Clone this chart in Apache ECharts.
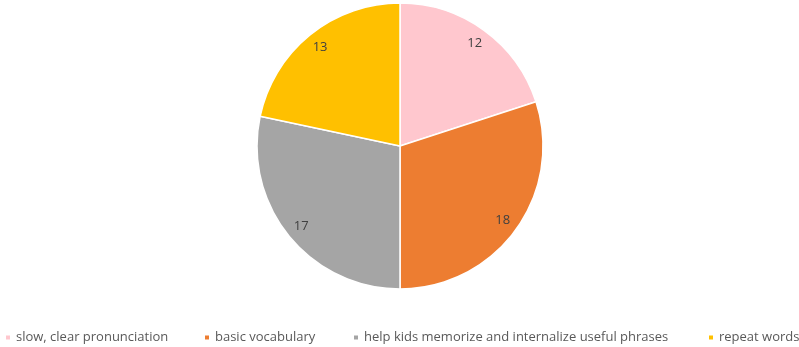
<!DOCTYPE html>
<html>
<head>
<meta charset="utf-8">
<script src="https://cdn.jsdelivr.net/npm/echarts@6/dist/echarts.min.js"></script>
<style>
html,body{margin:0;padding:0;background:#fff;}
#chart{width:799px;height:347px;}
</style>
</head>
<body>
<div id="chart"></div>
<script>
// Survey answers and their counts
var categories = ['slow, clear pronunciation', 'basic vocabulary', 'help kids memorize and internalize useful phrases', 'repeat words'];
var counts = [12, 18, 17, 13];
var colors = ['#FFC7CE', '#ED7D31', '#A5A5A5', '#FFC000'];

// left edge of each legend entry along the bottom row
var legendLeft = [4, 203, 352, 707];

var data = categories.map(function (name, i) {
  return { name: name, value: counts[i], itemStyle: { color: colors[i] } };
});

var legends = categories.map(function (name, i) {
  return {
    top: 331,
    left: legendLeft[i],
    padding: 0,
    itemWidth: 6,
    itemHeight: 6,
    icon: 'rect',
    textStyle: { color: '#595959', fontSize: 13, fontFamily: 'Open Sans' },
    data: [name]
  };
});

var chart = echarts.init(document.getElementById('chart'));
chart.setOption({
  animation: false,
  color: colors,
  legend: legends,
  series: [
    {
      type: 'pie',
      center: [400, 146],
      radius: [0, 143],
      startAngle: 90,
      clockwise: true,
      label: { show: false },
      labelLine: { show: false },
      itemStyle: { borderColor: '#fff', borderWidth: 1.5 },
      data: data
    },
    {
      // ring used only to place the value labels near the rim
      type: 'pie',
      silent: true,
      center: [400, 146],
      radius: [105, 143],
      startAngle: 90,
      clockwise: true,
      itemStyle: { color: 'rgba(0,0,0,0)' },
      label: {
        show: true,
        position: 'inside',
        formatter: '{c}',
        color: '#404040',
        fontSize: 13,
        fontFamily: 'Open Sans'
      },
      labelLine: { show: false },
      data: categories.map(function (name, i) { return { name: name, value: counts[i] }; })
    }
  ]
});
</script>
</body>
</html>
